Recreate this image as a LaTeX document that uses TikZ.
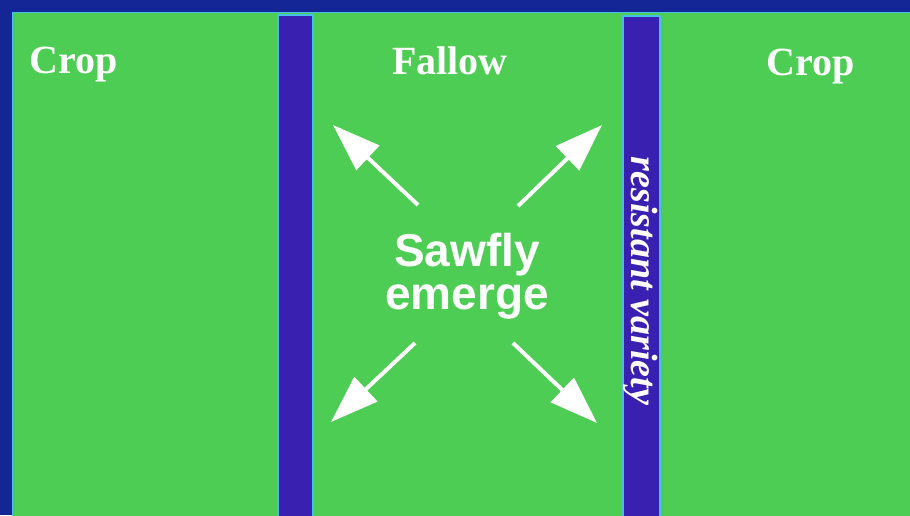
\documentclass[tikz,border=0pt]{standalone}
\usepackage{fontspec}
\setmainfont{Liberation Serif}
\setsansfont{Liberation Sans}
\usetikzlibrary{arrows.meta}
\definecolor{Gfield}{RGB}{78,205,84}
\definecolor{Fblue}{RGB}{20,38,150}
\definecolor{Sblue}{RGB}{58,32,176}
\definecolor{Sedge}{RGB}{70,190,230}

\begin{document}
\begin{tikzpicture}[x=1pt,y=-1pt,line cap=round,line join=round,
  fieldlabel/.style={text=white,inner sep=0pt,anchor=base,font=\bfseries\fontsize{40}{42}\selectfont},
  strip/.style={fill=Sblue,draw=Sedge,line width=1.2pt},
  emergearrow/.style={draw=white,line width=4pt,line cap=butt,-{Triangle[length=48pt,width=33pt]}}]
\path[use as bounding box] (0,0) rectangle (910,515);
\fill[Fblue] (0,0) rectangle (910,515);
\filldraw[fill=Gfield,draw=Sedge,line width=1pt] (12,12) rectangle (912,517);
\filldraw[strip] (278,15) rectangle (313,517);
\filldraw[strip] (623,16) rectangle (660,517);
\node[fieldlabel] (cropleft) at (74,73) {Crop};
\node[fieldlabel] (fallow) at (450,74) {Fallow};
\node[fieldlabel] (cropright) at (811,75) {Crop};
\node[text=white,inner sep=0pt,align=center,font=\sffamily\bfseries\fontsize{46}{43}\selectfont] (emerge) at (467,276) {Sawfly\\emerge};
\node[text=white,inner sep=0pt,rotate=-90,font=\bfseries\itshape\fontsize{38}{40}\selectfont] (resistant) at (641,281) {resistant variety};
\coordinate (ultail) at (418,205);
\coordinate (ultip) at (333,125);
\coordinate (urtail) at (518,206);
\coordinate (urtip) at (602,125);
\coordinate (lltail) at (415,343);
\coordinate (lltip) at (331,422);
\coordinate (lrtail) at (513,343);
\coordinate (lrtip) at (597,423);
\draw[emergearrow] (ultail) -- (ultip);
\draw[emergearrow] (urtail) -- (urtip);
\draw[emergearrow] (lltail) -- (lltip);
\draw[emergearrow] (lrtail) -- (lrtip);
\end{tikzpicture}
\end{document}
